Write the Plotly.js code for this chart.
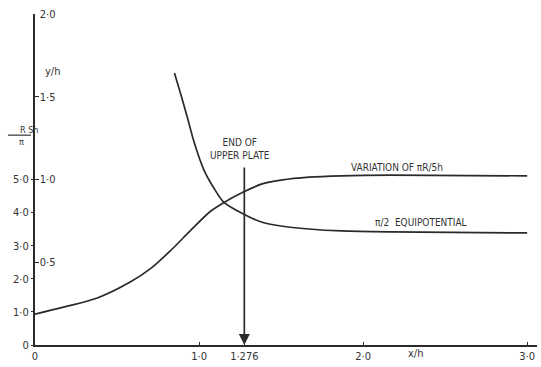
<!DOCTYPE html>
<html>
<head>
<meta charset="utf-8">
<script src="https://cdn.plot.ly/plotly-3.0.1.min.js"></script>
<style>html,body{margin:0;padding:0;background:#fff;}#chart{width:541px;height:367px;}</style>
</head>
<body>
<div id="chart"></div>
<script>
// Variation of πR/5h (plotted on the RSh/π scale)
const resX = [0, 0.18, 0.38, 0.58, 0.71, 0.83, 0.95, 1.07, 1.15, 1.27, 1.38, 1.50, 1.67, 1.87, 2.17, 3.0];
const resY = [0.93, 1.15, 1.42, 1.90, 2.33, 2.87, 3.47, 4.04, 4.30, 4.62, 4.86, 4.98, 5.07, 5.11, 5.13, 5.11];
// π/2 equipotential (plotted on the y/h scale)
const eqX = [0.85, 0.89, 0.93, 0.97, 1.03, 1.09, 1.15, 1.27, 1.38, 1.50, 1.67, 1.87, 2.17, 3.0];
const eqY = [1.644, 1.51, 1.37, 1.225, 1.057, 0.949, 0.864, 0.792, 0.743, 0.719, 0.701, 0.689, 0.683, 0.677];
// End of upper plate
const plateEndX = 1.276;
// Tick labels
const xTickVals = [0, 1.0, 1.276, 2.0, 3.0];
const xTickText = ['0', '1·0', '1·276', '2·0', '3·0'];
const yhTickVals = [0.5, 1.0, 1.5, 2.0];
const yhTickText = ['0·5', '1·0', '1·5', '2·0'];
const rTickVals = [0, 1, 2, 3, 4, 5];
const rTickText = ['0', '1·0', '2·0', '3·0', '4·0', '5·0'];

const INK = '#2a2a2a';
const TXT = '#333333';
const FONT = 'DejaVu Sans Condensed, Liberation Sans Narrow, DejaVu Sans, sans-serif';

const traces = [
  {x: resX, y: resY, yaxis: 'y2', mode: 'lines', line: {color: INK, width: 1.7, shape: 'spline', smoothing: 0.8}, hoverinfo: 'skip'},
  {x: eqX, y: eqY, yaxis: 'y', mode: 'lines', line: {color: INK, width: 1.7, shape: 'spline', smoothing: 0.8}, hoverinfo: 'skip'}
];

const layout = {
  width: 541, height: 367,
  margin: {l: 35, r: 4, t: 14, b: 22},
  paper_bgcolor: '#fff', plot_bgcolor: '#fff',
  showlegend: false,
  font: {family: FONT, size: 11, color: TXT},
  xaxis: {
    range: [0, 3.06], showgrid: false, zeroline: false,
    showline: true, linecolor: INK, linewidth: 2.2,
    tickvals: xTickVals, ticktext: xTickText,
    ticks: 'inside', ticklen: 3, tickcolor: INK,
    tickfont: {family: FONT, size: 11, color: TXT}
  },
  yaxis: {
    range: [0, 2], showgrid: false, zeroline: false,
    showline: true, linecolor: INK, linewidth: 2.2,
    tickvals: yhTickVals, ticktext: yhTickText,
    ticks: 'inside', ticklen: 4, tickcolor: INK,
    ticklabelposition: 'inside', ticklabeloverflow: 'allow',
    tickfont: {family: FONT, size: 11, color: TXT}
  },
  yaxis2: {
    range: [0, 10], overlaying: 'y', side: 'left', anchor: 'x',
    showgrid: false, zeroline: false, showline: false,
    tickvals: rTickVals, ticktext: rTickText,
    ticks: 'outside', ticklen: 3, tickcolor: INK,
    tickfont: {family: FONT, size: 11, color: TXT}
  },
  shapes: [
    {type: 'line', xref: 'paper', yref: 'paper', x0: -0.054, x1: -0.008, y0: 0.634, y1: 0.634, line: {color: TXT, width: 1.2}}
  ],
  annotations: [
    {x: plateEndX, y: 0, ax: plateEndX, ay: 1.082, xref: 'x', yref: 'y', axref: 'x', ayref: 'y',
     text: '', showarrow: true, arrowhead: 2, arrowsize: 1.3, arrowwidth: 1.7, arrowcolor: INK},
    {x: 1.25, y: 1.184, xref: 'x', yref: 'y', text: 'END OF<br>UPPER PLATE', showarrow: false,
     font: {family: FONT, size: 10, color: TXT}},
    {x: 1.915, y: 1.07, xref: 'x', yref: 'y', xanchor: 'left', text: 'VARIATION OF πR/5h', showarrow: false,
     font: {family: FONT, size: 10, color: TXT}},
    {x: 2.354, y: 0.743, xref: 'x', yref: 'y', text: 'π/2  EQUIPOTENTIAL', showarrow: false,
     font: {family: FONT, size: 10, color: TXT}},
    {x: 0.104, y: 1.65, xref: 'x', yref: 'y', text: 'y/h', showarrow: false,
     font: {family: FONT, size: 11, color: TXT}},
    {x: 2.317, y: -0.051, xref: 'x', yref: 'paper', text: 'x/h', showarrow: false,
     font: {family: FONT, size: 11, color: TXT}},
    {x: -0.034, y: 0.651, xref: 'paper', yref: 'paper', text: 'R Sh', showarrow: false,
     font: {family: FONT, size: 9, color: TXT}},
    {x: -0.036, y: 0.612, xref: 'paper', yref: 'paper', text: 'π', showarrow: false,
     font: {family: FONT, size: 9, color: TXT}}
  ]
};

Plotly.newPlot('chart', traces, layout, {staticPlot: true, displayModeBar: false});
</script>
</body>
</html>
